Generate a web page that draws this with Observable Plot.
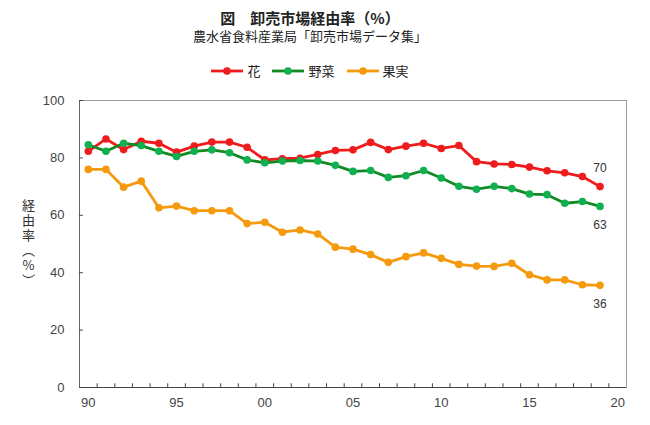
<!DOCTYPE html>
<html><head><meta charset="utf-8">
<script src="https://cdn.jsdelivr.net/npm/d3@7"></script>
<script src="https://cdn.jsdelivr.net/npm/@observablehq/plot@0.6"></script>
<style>
body{margin:0;background:#fff;width:650px;height:425px;position:relative;overflow:hidden;font-family:"Noto Sans CJK JP",sans-serif;}
#title{position:absolute;top:9px;left:0;width:620px;text-align:center;font-size:15px;line-height:17px;font-weight:bold;color:#222;white-space:pre;}
#subtitle{position:absolute;top:28px;left:0;width:620px;text-align:center;font-size:13px;line-height:15px;color:#222;}
#legend{position:absolute;top:63px;left:0;width:620px;display:flex;justify-content:center;align-items:center;font-size:13px;line-height:16px;color:#222;}
#legend .item{display:flex;align-items:center;margin:0 6px;}
#legend svg{margin-right:4px;}
#ylabel{position:absolute;left:21px;top:199px;writing-mode:vertical-rl;text-orientation:upright;font-size:13px;line-height:15px;color:#333;letter-spacing:2px;z-index:2;}
#chart{position:absolute;top:85px;left:0;z-index:1;}
</style>
</head><body>
<div id="title"></div>
<div id="subtitle"></div>
<div id="legend"></div>
<div id="chart"></div>
<div id="ylabel"></div>
<script>
const titleText = "図　卸売市場経由率（%）";
const subtitleText = "農水省食料産業局「卸売市場データ集」";
const yAxisTitle = "経由率（%）";
const years = [1990,1991,1992,1993,1994,1995,1996,1997,1998,1999,2000,2001,2002,2003,2004,2005,2006,2007,2008,2009,2010,2011,2012,2013,2014,2015,2016,2017,2018,2019];
const seriesNames = ["花", "野菜", "果実"];
const hana = [82.3,86.6,82.9,85.8,85.1,82.0,84.1,85.5,85.5,83.7,79.3,79.7,79.9,81.2,82.6,82.8,85.4,82.9,84.1,85.1,83.3,84.3,78.7,77.9,77.7,76.8,75.5,74.8,73.5,70.0];
const yasai = [84.6,82.3,85.1,84.3,82.3,80.5,82.3,82.8,81.8,79.3,78.3,78.9,79.1,78.9,77.4,75.3,75.6,73.2,73.8,75.6,73.0,70.1,69.1,70.1,69.3,67.4,67.2,64.2,64.8,63.1];
const kajitsu = [76.0,76.0,69.8,71.9,62.6,63.2,61.6,61.6,61.6,57.1,57.6,54.1,54.9,53.5,48.9,48.2,46.3,43.6,45.6,46.9,45.0,42.9,42.3,42.2,43.3,39.3,37.5,37.5,35.8,35.6];
const yTicks = [0,20,40,60,80,100];
const xLabelYears = [1990,1995,2000,2005,2010,2015,2020];

const lineColors = ["#ee1c1c", "#138a24", "#f59a0c"];
const dotColors = ["#ee1c1c", "#10b050", "#f59a0c"];

document.getElementById("title").textContent = titleText;
document.getElementById("subtitle").textContent = subtitleText;
document.getElementById("ylabel").textContent = yAxisTitle;

const legend = document.getElementById("legend");
seriesNames.forEach((n, i) => {
  const it = document.createElement("div");
  it.className = "item";
  it.innerHTML = `<svg width="32" height="10"><line x1="0" x2="32" y1="5" y2="5" stroke="${lineColors[i]}" stroke-width="2.8"/><circle cx="16" cy="5" r="3.8" fill="${dotColors[i]}"/></svg><span>${n}</span>`;
  legend.appendChild(it);
});

const valuesBySeries = [hana, yasai, kajitsu];
const rowsBySeries = valuesBySeries.map((vals, i) => years.map((y, j) => ({year: y, value: vals[j], series: seriesNames[i]})));

const xTickPos = d3.range(1990.5, 2020.5, 1);
const lastRows = rowsBySeries.map(r => r[r.length - 1]);

const marks = [
  Plot.frame({stroke: "#999"}),
  Plot.ruleX([1989.5], {stroke: "#666"}),
  Plot.ruleY([0], {stroke: "#444"}),
  Plot.ruleX(xTickPos, {y1: 0, y2: 1.3, stroke: "#444"}),
  Plot.ruleY(yTicks, {x1: 1989.5, x2: 1989.72, stroke: "#444"}),
  Plot.axisY({ticks: yTicks, tickSize: 0, tickPadding: 15, label: null}),
  Plot.axisX({ticks: xLabelYears, tickSize: 0, tickPadding: 10, label: null, tickFormat: d => String(d % 100).padStart(2, "0")})
];
rowsBySeries.forEach((rows, i) => {
  marks.push(Plot.line(rows, {x: "year", y: "value", stroke: lineColors[i], strokeWidth: 2.8}));
  marks.push(Plot.dot(rows, {x: "year", y: "value", fill: dotColors[i], r: 3.8}));
});
marks.push(Plot.text([lastRows[0]], {x: "year", y: "value", text: d => String(Math.round(d.value)), dy: -18, fill: "#333", fontSize: 12}));
marks.push(Plot.text([lastRows[1], lastRows[2]], {x: "year", y: "value", text: d => String(Math.round(d.value)), dy: 19, fill: "#333", fontSize: 12}));

const chart = Plot.plot({
  width: 650, height: 340,
  marginLeft: 79, marginRight: 24, marginTop: 15, marginBottom: 38,
  x: {domain: [1989.5, 2020.5]},
  y: {domain: [0, 100]},
  style: {fontFamily: "'Liberation Sans', Arial, sans-serif", fontSize: "13px", color: "#444", background: "#fff"},
  marks
});
document.getElementById("chart").appendChild(chart);
</script>
</body></html>
